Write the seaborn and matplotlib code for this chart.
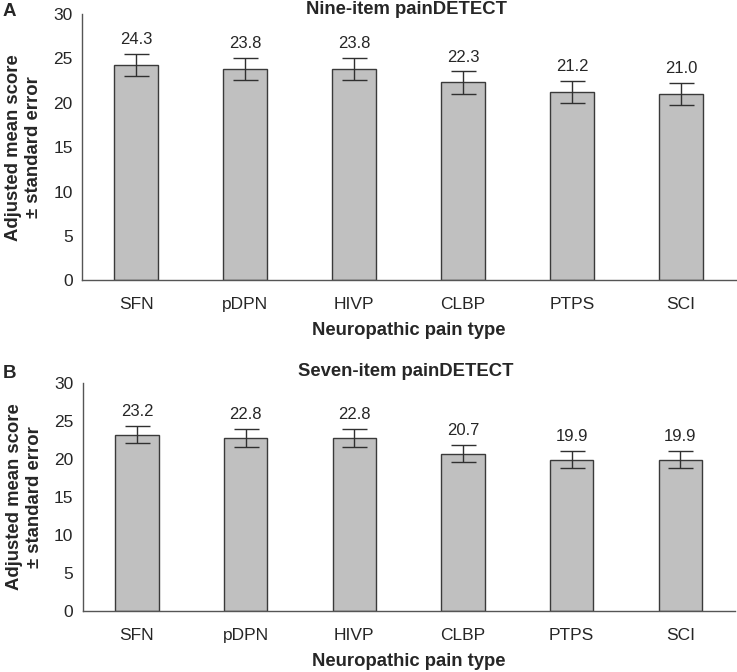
import numpy as np
import pandas as pd
import seaborn as sns
import matplotlib.pyplot as plt

pain_types = ["SFN", "pDPN", "HIVP", "CLBP", "PTPS", "SCI"]
nine_item_mean = [24.3, 23.8, 23.8, 22.3, 21.2, 21.0]
nine_item_se = [1.25, 1.25, 1.25, 1.25, 1.25, 1.25]
seven_item_mean = [23.2, 22.8, 22.8, 20.7, 19.9, 19.9]
seven_item_se = [1.15, 1.2, 1.2, 1.15, 1.15, 1.15]

sns.set_style("white")
plt.rcParams["font.family"] = ["Liberation Sans", "DejaVu Sans"]

fig = plt.figure(figsize=(7.37, 6.72), dpi=100)
ax_a = fig.add_axes([0.111, 0.583, 0.887, 0.396])
ax_b = fig.add_axes([0.112, 0.091, 0.885, 0.339])

# (axes, means, errors, title, letter, title y in px, letter y in px)
panels = [
    (ax_a, nine_item_mean, nine_item_se, "Nine-item painDETECT", "A", 9, 11),
    (ax_b, seven_item_mean, seven_item_se, "Seven-item painDETECT", "B", 372, 374),
]

for ax, means, ses, title, letter, ty, ly in panels:
    df = pd.DataFrame({"type": pain_types, "mean": means, "se": ses})
    sns.barplot(data=df, x="type", y="mean", color="#c0c0c0", width=0.4,
                edgecolor="#3a3a3a", linewidth=1.0, saturation=1,
                errorbar=None, ax=ax)
    ax.errorbar(np.arange(len(pain_types)), df["mean"], yerr=df["se"],
                fmt="none", ecolor="#303030", elinewidth=1.0, capsize=9,
                capthick=1.0)
    for i, (m, s) in enumerate(zip(means, ses)):
        ax.annotate(f"{m:.1f}", (i, m + s), xytext=(0, 10.3),
                    textcoords="offset points", ha="center", va="center",
                    fontsize=12)
    ax.set_xlim(-0.5, len(pain_types) - 0.5)
    ax.set_ylim(0, 30)
    ax.set_yticks(range(0, 31, 5))
    ax.set_xticks(np.arange(-0.5, len(pain_types), 1.0), minor=False)
    ax.set_xticklabels([])
    ax.set_xticks(np.arange(len(pain_types)), minor=True)
    ax.set_xticklabels(pain_types, minor=True)
    ax.tick_params(axis="x", which="major", direction="out", length=3.6,
                   width=0.8, color="#555555")
    ax.tick_params(axis="x", which="minor", length=0, pad=12, labelsize=12.5)
    ax.tick_params(axis="y", direction="out", length=3.6, width=0.8,
                   color="#555555", labelsize=12.5, pad=3)
    for side in ["top", "right"]:
        ax.spines[side].set_visible(False)
    for side in ["left", "bottom"]:
        ax.spines[side].set_color("#555555")
        ax.spines[side].set_linewidth(1.0)
    ax.set_xlabel("Neuropathic pain type", fontsize=13.3, fontweight="bold",
                  labelpad=7.5)
    ax.set_ylabel("Adjusted mean score\n± standard error", fontsize=13.3,
                  fontweight="bold", labelpad=8, linespacing=1.25)
    fig.text(406 / 737, 1 - ty / 672, title, fontsize=13.3,
             fontweight="bold", ha="center", va="center")
    fig.text(3 / 737, 1 - ly / 672, letter, fontsize=13.5,
             fontweight="bold", ha="left", va="center")

fig.savefig("out.png", dpi=100)
